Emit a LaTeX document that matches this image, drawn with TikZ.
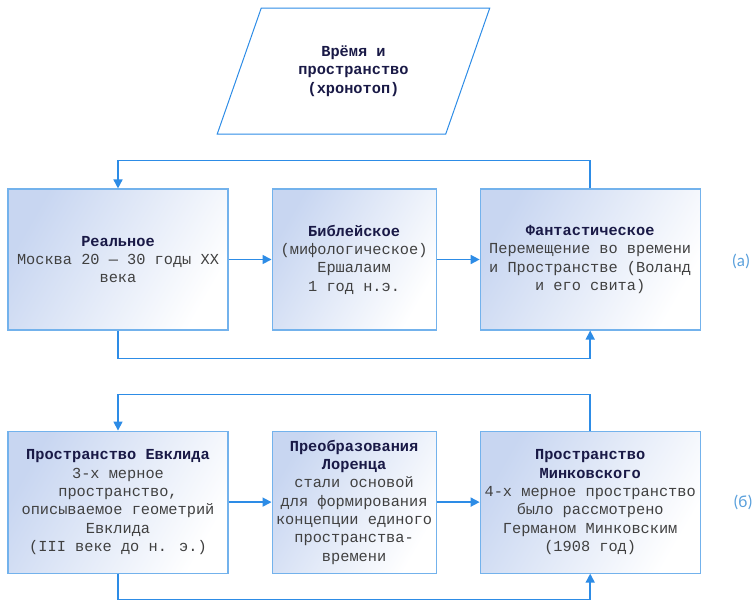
\documentclass[tikz,border=0pt]{standalone}
\usepackage{fontspec}
\setmainfont{Liberation Mono}
\newfontfamily\tagfont{Carlito}
\usetikzlibrary{positioning, arrows.meta, shapes.geometric}
\definecolor{linkblue}{RGB}{45,140,230}
\definecolor{edgeblue}{RGB}{115,178,236}
\definecolor{shadeblue}{RGB}{200,214,241}
\definecolor{titlenavy}{RGB}{25,25,70}
\definecolor{bodygray}{RGB}{64,64,64}
\definecolor{tagblue}{RGB}{90,160,220}
\newcommand{\ttl}[1]{\textbf{\color{titlenavy}#1}}

\begin{document}
\begin{tikzpicture}[
    x=1pt, y=-1pt,
    node distance = 43pt and 43pt,
    box/.style = {rectangle, draw=edgeblue, line width=1.1pt, top color=shadeblue, bottom color=white, shading angle=60, align=center, minimum height=141pt, minimum width=220pt, inner sep=2pt, font=\fontsize{15.3}{18.3}\selectfont, text=bodygray},
    narrow/.style = {box, minimum width=164pt},
    para/.style = {trapezium, trapezium left angle=64, trapezium right angle=116, trapezium stretches=true, draw=linkblue, line width=1pt, minimum width=273pt, minimum height=126pt, align=center, font=\fontsize{15.3}{18.3}\selectfont\bfseries, text=titlenavy},
    arrow/.style = {-{Triangle[length=9pt, width=9pt]}, linkblue, line width=1.6pt},
    tag/.style = {font=\tagfont\fontsize{17}{20}\selectfont, text=tagblue}
]
    \useasboundingbox (0,0) rectangle (755,600);

    \node[para] (TIME) at (353.5,71) {Врёмя и\\пространство\\(хронотоп)};

    \node[box] (REAL) at (118,259.5) {\ttl{Реальное}\\Москва 20 — 30 годы XX\\века};
    \node[narrow, right=of REAL] (BIB) {\ttl{Библейское}\\(мифологическое)\\Ершалаим\\1 год н.э.};
    \node[box, right=of BIB] (FANT) {\ttl{Фантастическое}\\Перемещение во времени\\и Пространстве (Воланд\\и его свита)};
    \node[tag] (TA) at (741,261) {(а)};

    \node[box, below=100pt of REAL, minimum height=142pt] (EUC) {\ttl{Пространство Евклида}\\3-х мерное\\пространство,\\описываемое геометрий\\Евклида\\(III веке до н. э.)};
    \node[narrow, right=of EUC, minimum height=142pt] (LOR) {\ttl{Преобразования}\\\ttl{Лоренца}\\стали основой\\для формирования\\концепции единого\\пространства-\\времени};
    \node[box, right=of LOR, minimum height=142pt] (MINK) {\ttl{Пространство}\\\ttl{Минковского}\\4-х мерное пространство\\было рассмотрено\\Германом Минковским\\(1908 год)};
    \node[tag] (TB) at (743,502) {(б)};

    \draw[arrow] (REAL) -- (BIB);
    \draw[arrow] (BIB) -- (FANT);
    \draw[arrow] (FANT.north) -- ++(0,-28) -| (REAL.north);
    \draw[arrow] (REAL.south) -- ++(0,28) -| (FANT.south);

    \draw[arrow] (EUC) -- (LOR);
    \draw[arrow] (LOR) -- (MINK);
    \draw[arrow] (MINK.north) -- ++(0,-36) -| (EUC.north);
    \draw[arrow] (EUC.south) -- ++(0,26) -| (MINK.south);
\end{tikzpicture}
\end{document}
